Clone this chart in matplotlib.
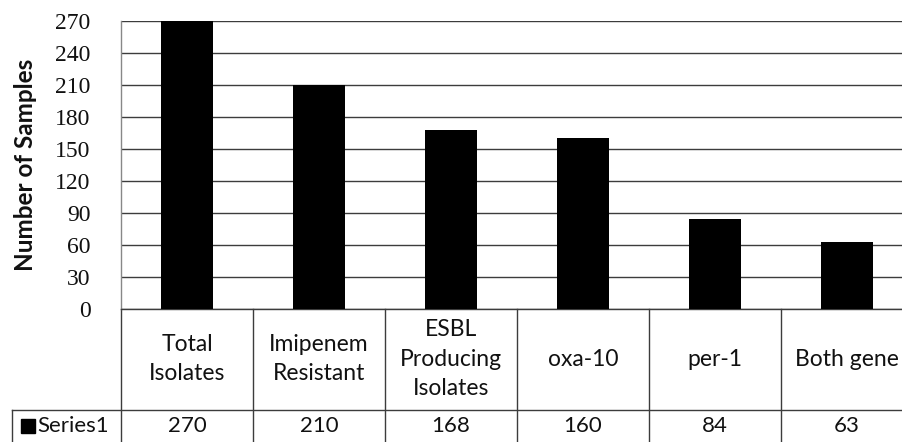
import matplotlib
matplotlib.use("Agg")
import matplotlib.pyplot as plt
import matplotlib.transforms as mtransforms
from matplotlib.patches import Rectangle

plt.rcParams['font.family'] = ['Lato', 'DejaVu Sans']

categories = ["Total\nIsolates", "Imipenem\nResistant", "ESBL\nProducing\nIsolates",
              "oxa-10", "per-1", "Both gene"]
series_name = "Series1"
values = [270, 210, 168, 160, 84, 63]
y_ticks = [0, 30, 60, 90, 120, 150, 180, 210, 240, 270]

W, H = 902, 442
fig = plt.figure(figsize=(W / 100, H / 100), dpi=100)


def fy(py):
    return 1 - py / H


# plot area (extends slightly past the right edge of the canvas)
ax = fig.add_axes([121 / W, fy(309), (913 - 121) / W, 288 / H])
x = list(range(len(values)))
ax.bar(x, values, width=0.4, color='black', zorder=3)
ax.set_xlim(-0.5, len(values) - 0.5)
ax.set_ylim(0, 270)
ax.set_yticks(y_ticks)
ax.set_xticks([])
ax.yaxis.grid(True, color='#3c3c3c', lw=1.0, zorder=0)
ax.set_axisbelow(True)
for s in ('top', 'right'):
    ax.spines[s].set_visible(False)
ax.spines['left'].set_color('#888888')
ax.spines['left'].set_linewidth(1.0)
ax.spines['bottom'].set_color('#3c3c3c')
ax.spines['bottom'].set_linewidth(1.0)
ax.tick_params(axis='y', length=0, pad=22)
for lbl in ax.get_yticklabels():
    lbl.set_color('#111111')
    lbl.set_fontfamily('Liberation Serif')
    lbl.set_fontsize(17)

fig.text(26 / W, fy(165), "Number of Samples", rotation=90, fontweight='bold',
         ha='center', va='center', fontsize=17.5, color='#111111')

# data table beneath the axis
blend = mtransforms.blended_transform_factory(ax.transData, fig.transFigure)
line_kw = dict(color='#3c3c3c', lw=1.0, clip_on=False)
for k in range(len(values) + 1):
    ax.plot([k - 0.5, k - 0.5], [fy(309), fy(442)], transform=blend, **line_kw)
fig.add_artist(plt.Line2D([12 / W, 1.0], [fy(410), fy(410)], **line_kw))
fig.add_artist(plt.Line2D([12 / W, 12 / W], [fy(410), fy(442)], **line_kw))

for i, (cat, v) in enumerate(zip(categories, values)):
    ax.text(i, fy(359), cat, transform=blend, ha='center', va='center',
            fontsize=16.5, linespacing=1.5, color='#111111', clip_on=False)
    ax.text(i, fy(426), str(v), transform=blend, ha='center', va='center',
            fontsize=16, color='#111111', clip_on=False)

fig.add_artist(Rectangle((21 / W, fy(433)), 14 / W, 14 / H,
                         transform=fig.transFigure, color='black'))
fig.text(37 / W, fy(426), series_name, ha='left', va='center',
         fontsize=16, color='#111111')

fig.savefig("out.png", dpi=100, facecolor='white')
